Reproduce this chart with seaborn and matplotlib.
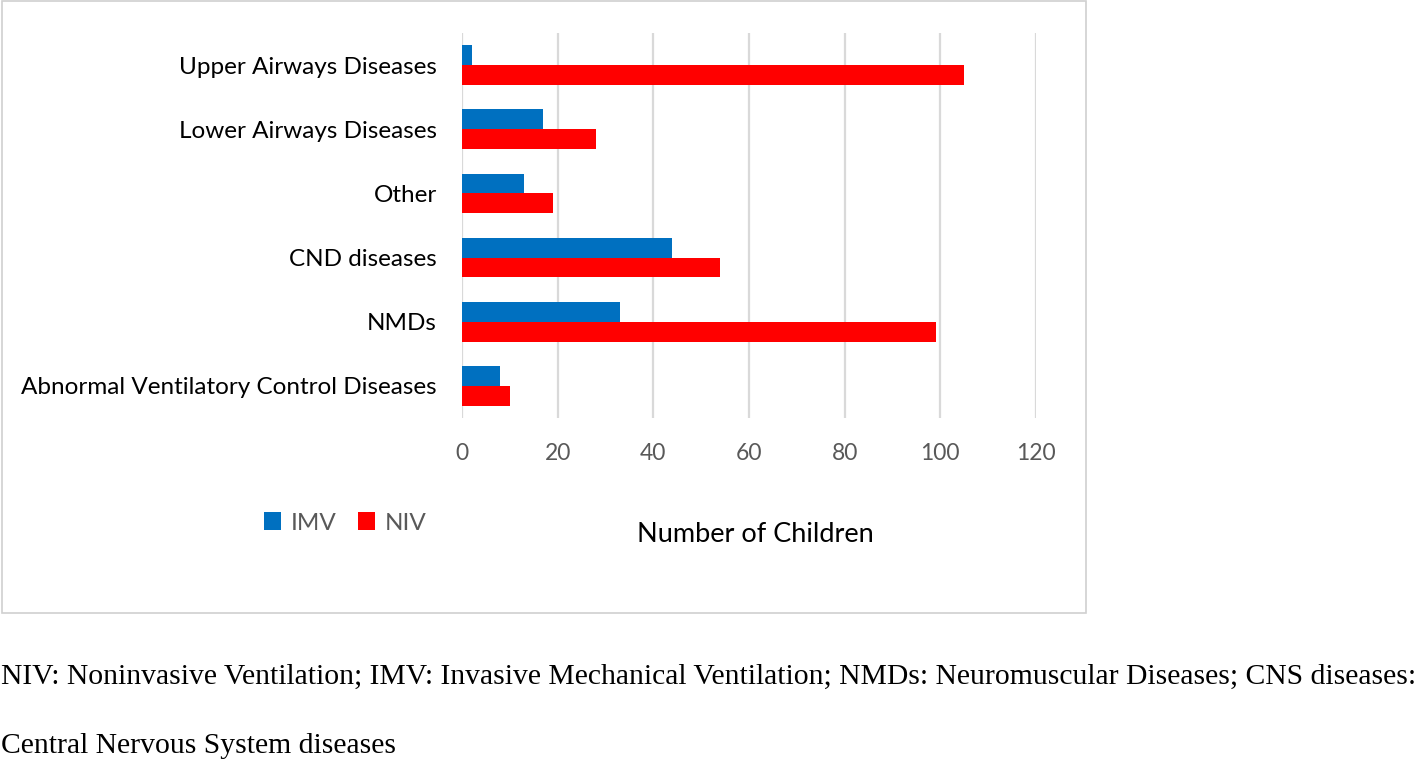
import matplotlib
matplotlib.use("Agg")
import matplotlib.pyplot as plt
import seaborn as sns
import pandas as pd
from matplotlib.patches import Rectangle, Patch

categories = ["Upper Airways Diseases", "Lower Airways Diseases", "Other",
              "CND diseases", "NMDs", "Abnormal Ventilatory Control Diseases"]
imv_values = [2, 17, 13, 44, 33, 8]
niv_values = [105, 28, 19, 54, 99, 10]
series = ["IMV", "NIV"]
colors = {"IMV": "#0070C0", "NIV": "#FF0000"}
x_ticks = [0, 20, 40, 60, 80, 100, 120]
x_label = "Number of Children"
footnote_1 = "NIV: Noninvasive Ventilation; IMV: Invasive Mechanical Ventilation; NMDs: Neuromuscular Diseases; CNS diseases:"
footnote_2 = "Central Nervous System diseases"

df = pd.DataFrame({
    "category": categories * 2,
    "type": ["IMV"] * len(categories) + ["NIV"] * len(categories),
    "value": imv_values + niv_values,
})

sns.set_style("white")
plt.rcParams["font.family"] = ["Lato", "DejaVu Sans"]

W, H = 1418, 761
fig = plt.figure(figsize=(W / 100, H / 100), dpi=100)
ax = fig.add_axes([462 / W, 1 - 418 / H, (1036 - 462) / W, (418 - 33) / H])

sns.barplot(data=df, y="category", x="value", hue="type", order=categories,
            hue_order=series, palette=colors, orient="h", width=0.62,
            linewidth=0, saturation=1, legend=False, ax=ax)

ax.set_xlim(0, 120)
ax.set_xticks(x_ticks)
ax.set_ylim(5.5, -0.5)
ax.grid(axis="x", color="#D9D9D9", linewidth=1.6)
ax.set_axisbelow(True)
for s in ax.spines.values():
    s.set_visible(False)
ax.set_xlabel("")
ax.set_ylabel("")
ax.tick_params(axis="x", colors="#595959", labelsize=16.5, length=0, pad=18)
ax.tick_params(axis="y", colors="black", labelsize=17.5, length=0, pad=18)
for t in ax.get_xticklabels():
    t.set_color("#595959")

# chart frame
fig.patches.append(Rectangle((2 / W, 1 - 613 / H), (1086 - 2) / W, 612 / H,
                             transform=fig.transFigure, fill=False,
                             edgecolor="#D0D0D0", linewidth=1.2))

handles = [Patch(facecolor=colors[s], edgecolor="none", label=s) for s in series]
fig.legend(handles=handles, loc="center", bbox_to_anchor=(345 / W, 1 - 523 / H),
           ncol=2, frameon=False, fontsize=17.5, handlelength=0.7, handleheight=0.7,
           handletextpad=0.4, columnspacing=0.9, labelcolor="#595959")

fig.text(755 / W, 1 - 535 / H, x_label, ha="center", va="center",
         fontsize=19.5, color="black")

fig.text(1 / W, 1 - 677 / H, footnote_1, ha="left", va="center",
         fontsize=21.3, family=["Liberation Serif"], color="black")
fig.text(1 / W, 1 - 746 / H, footnote_2, ha="left", va="center",
         fontsize=21.3, family=["Liberation Serif"], color="black")

fig.savefig("out.png", dpi=100)
